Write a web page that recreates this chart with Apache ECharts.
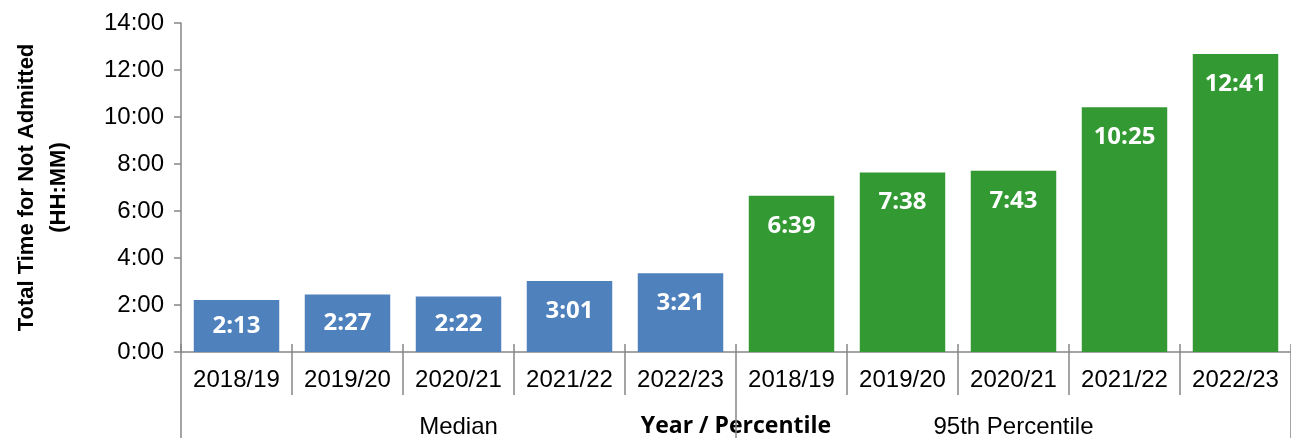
<!DOCTYPE html>
<html>
<head>
<meta charset="utf-8">
<script src="https://cdn.jsdelivr.net/npm/echarts@6/dist/echarts.min.js"></script>
<style>
  html, body { margin: 0; padding: 0; background: #fff; }
  #chart { width: 1291px; height: 438px; }
</style>
</head>
<body>
<div id="chart"></div>
<script>
'use strict';

// data (minutes)
const years = ['2018/19', '2019/20', '2020/21', '2021/22', '2022/23',
    '2018/19', '2019/20', '2020/21', '2021/22', '2022/23'];
const groups = ['Median', '95th Percentile'];
const medianMinutes = [133, 147, 142, 181, 201];
const p95Minutes = [399, 458, 463, 625, 761];
const yTicks = ['0:00', '2:00', '4:00', '6:00', '8:00', '10:00', '12:00', '14:00'];

const blue = '#4F81BD';
const green = '#339933';
const axisGrey = '#868686';

function hhmm(m) {
    const h = Math.floor(m / 60);
    const mm = Math.round(m - h * 60);
    return h + ':' + (mm < 10 ? '0' : '') + mm;
}

function item(v, color) {
    return {
        value: v,
        itemStyle: { color: color },
        label: v < 160 ? { position: 'inside' } : { position: 'insideTop', distance: 18 }
    };
}

const barData = medianMinutes.map(v => item(v, blue))
    .concat(p95Minutes.map(v => item(v, green)));

const tickStyle = { color: axisGrey, width: 1.5 };

const option = {
    animation: false,
    grid: { left: 181, right: 0, top: 23, bottom: 86, outerBoundsMode: 'none', containLabel: false },
    xAxis: [
        {
            type: 'category',
            data: years,
            axisLine: { show: true, lineStyle: tickStyle },
            axisTick: { show: true, interval: 0, length: 43, lineStyle: tickStyle },
            axisLabel: { interval: 0, margin: 16, color: '#000', fontSize: 24, fontFamily: 'Liberation Sans' }
        },
        {
            type: 'category',
            data: groups,
            position: 'bottom',
            axisLine: { show: false },
            axisTick: { show: true, interval: 0, length: 86, lineStyle: tickStyle },
            axisLabel: { interval: 0, margin: 63, color: '#000', fontSize: 24, fontFamily: 'Liberation Sans' },
            name: 'Year / Percentile',
            nameLocation: 'middle',
            nameGap: 63,
            nameMoveOverlap: false,
            nameTextStyle: { color: '#000', fontSize: 23, fontWeight: 'bold', fontFamily: 'Open Sans', verticalAlign: 'top' }
        },
        {
            type: 'category',
            data: years,
            position: 'bottom',
            axisLine: { show: false },
            axisTick: { show: true, inside: true, interval: 0, length: 8, lineStyle: tickStyle },
            axisLabel: { show: false }
        }
    ],
    yAxis: {
        type: 'value',
        min: 0,
        max: 840,
        interval: 120,
        splitLine: { show: false },
        axisLine: { show: true, lineStyle: tickStyle },
        axisTick: { show: true, length: 7, lineStyle: tickStyle },
        axisLabel: {
            margin: 17,
            color: '#000',
            fontSize: 24,
            fontFamily: 'Liberation Sans',
            formatter: v => yTicks[Math.round(v / 120)]
        },
        name: 'Total Time for Not Admitted\n(HH:MM)',
        nameLocation: 'middle',
        nameRotate: 90,
        nameGap: 106,
        nameTextStyle: { color: '#000', fontSize: 22, fontWeight: 'bold', fontFamily: 'Liberation Sans', lineHeight: 32 }
    },
    series: [
        {
            type: 'bar',
            data: barData,
            barWidth: '77%',
            label: {
                show: true,
                color: '#fff',
                fontSize: 24,
                fontWeight: 'bold',
                fontFamily: 'Open Sans',
                formatter: p => hhmm(p.value)
            }
        }
    ]
};

const chart = echarts.init(document.getElementById('chart'));
chart.setOption(option);
window.addEventListener('resize', function () {
    chart.resize();
});
</script>
</body>
</html>
